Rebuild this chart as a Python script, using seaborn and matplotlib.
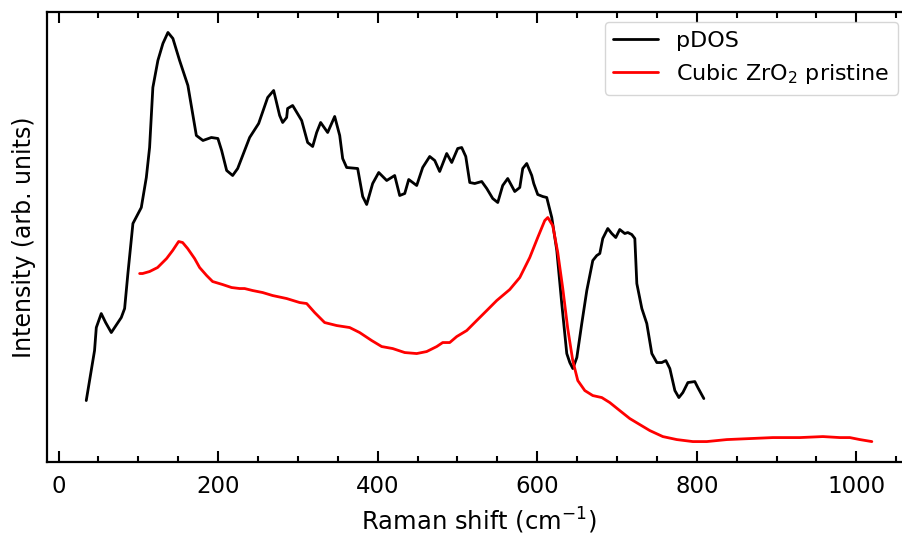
import matplotlib
matplotlib.use("Agg")
import matplotlib.pyplot as plt
from matplotlib.ticker import MultipleLocator
import pandas as pd
import seaborn as sns

# Phonon partial density of states (calculated)
pdos_shift = [34.7, 45.1, 47.3, 53.5, 59.0, 66.1, 78.6, 82.8, 86.9, 93.2, 103.7, 110.0,
              114.1, 118.2, 124.5, 130.8, 137.1, 143.3, 151.7, 162.1, 172.7, 181.0, 191.5,
              199.7, 204.4, 210.7, 218.2, 224.5, 239.5, 250.8, 262.1, 269.6, 277.1, 280.9,
              285.9, 287.1, 293.4, 304.7, 312.2, 318.5, 323.5, 328.5, 337.3, 346.1, 352.4,
              356.1, 361.1, 374.9, 381.2, 386.2, 393.7, 401.3, 411.3, 421.3, 427.6, 433.9,
              438.9, 448.9, 456.4, 465.2, 471.5, 477.7, 486.5, 492.8, 500.3, 505.3, 510.4,
              515.4, 521.6, 530.4, 536.7, 544.2, 550.5, 556.7, 563.0, 571.8, 578.1, 581.8,
              586.8, 593.1, 595.6, 600.6, 606.9, 611.9, 618.2, 624.5, 630.7, 637.0, 640.8,
              644.6, 649.6, 655.8, 662.1, 669.6, 674.6, 678.4, 682.1, 688.4, 693.4, 698.4,
              703.4, 709.7, 713.5, 718.5, 722.3, 724.8, 731.1, 737.3, 743.6, 749.9, 756.1,
              761.2, 766.2, 772.5, 777.5, 782.5, 788.8, 797.5, 801.3, 808.8]
pdos_int = [0.62, 1.12, 1.35, 1.49, 1.40, 1.30, 1.45, 1.54, 1.89, 2.39, 2.55, 2.85,
            3.15, 3.75, 4.02, 4.19, 4.30, 4.24, 4.02, 3.77, 3.27, 3.22, 3.25,
            3.24, 3.12, 2.92, 2.87, 2.94, 3.25, 3.39, 3.65, 3.72, 3.47, 3.40,
            3.45, 3.54, 3.57, 3.42, 3.20, 3.16, 3.30, 3.40, 3.30, 3.46, 3.27,
            3.04, 2.95, 2.94, 2.66, 2.58, 2.79, 2.90, 2.82, 2.87, 2.67, 2.69,
            2.83, 2.77, 2.95, 3.06, 3.02, 2.91, 3.09, 3.00, 3.14, 3.15, 3.06,
            2.80, 2.79, 2.81, 2.74, 2.64, 2.60, 2.77, 2.84, 2.71, 2.75, 2.94,
            2.99, 2.87, 2.79, 2.68, 2.66, 2.65, 2.45, 2.12, 1.59, 1.09, 1.00,
            0.94, 1.05, 1.39, 1.72, 2.02, 2.07, 2.09, 2.24, 2.34, 2.29, 2.25,
            2.33, 2.29, 2.30, 2.28, 2.24, 1.79, 1.54, 1.39, 1.09, 1.00, 1.00,
            1.02, 0.94, 0.72, 0.65, 0.70, 0.80, 0.81, 0.75, 0.64]

# Measured Raman spectrum of pristine cubic ZrO2
raman_shift = [101.6, 105.3, 114.1, 124.1, 135.4, 143.0, 150.5, 155.5, 161.8, 170.5, 176.8,
               185.6, 193.1, 205.6, 216.9, 227.0, 233.2, 243.3, 255.8, 268.3, 285.9, 302.2,
               311.0, 321.0, 333.5, 348.6, 364.9, 377.4, 392.5, 405.0, 418.8, 433.9, 448.9,
               461.4, 474.0, 481.5, 490.3, 499.1, 511.6, 524.1, 536.7, 549.2, 565.5, 578.1,
               590.6, 600.6, 609.4, 613.2, 619.4, 625.7, 632.0, 638.2, 644.5, 650.8, 659.6,
               669.6, 680.9, 690.9, 703.4, 716.0, 728.5, 741.1, 757.4, 774.9, 795.0, 812.5,
               837.6, 866.5, 895.3, 929.2, 958.0, 979.3, 991.8, 1004.4, 1019.4]
raman_int = [1.89, 1.89, 1.91, 1.95, 2.04, 2.12, 2.21, 2.20, 2.14, 2.04, 1.95,
             1.87, 1.81, 1.78, 1.75, 1.74, 1.74, 1.72, 1.70, 1.67, 1.64, 1.60,
             1.59, 1.50, 1.40, 1.37, 1.35, 1.30, 1.22, 1.16, 1.14, 1.10, 1.09,
             1.11, 1.16, 1.20, 1.20, 1.26, 1.32, 1.42, 1.52, 1.62, 1.73, 1.85,
             2.05, 2.25, 2.42, 2.45, 2.37, 2.10, 1.74, 1.34, 1.02, 0.82, 0.72,
             0.67, 0.65, 0.60, 0.52, 0.44, 0.38, 0.32, 0.26, 0.23, 0.21, 0.21,
             0.23, 0.24, 0.25, 0.25, 0.26, 0.25, 0.25, 0.23, 0.21]

labels = ["pDOS", "Cubic ZrO$_2$ pristine"]
colors = ["black", "red"]

sns.set_theme(style="ticks")
plt.rcParams["font.family"] = ["DejaVu Sans"]
plt.rcParams["mathtext.fontset"] = "dejavusans"
plt.rcParams["text.color"] = "black"
plt.rcParams["axes.labelcolor"] = "black"
plt.rcParams["xtick.color"] = "black"
plt.rcParams["xtick.labelcolor"] = "black"

fig = plt.figure(figsize=(9.02, 5.36), dpi=100)
# the frame runs slightly past the right edge of the canvas
ax = fig.add_axes([0.0521, 0.138, 0.958, 0.8396])

pdos_df = pd.DataFrame({"shift": pdos_shift, "intensity": pdos_int})
raman_df = pd.DataFrame({"shift": raman_shift, "intensity": raman_int})

sns.lineplot(data=pdos_df, x="shift", y="intensity", color=colors[0], lw=2,
             label=labels[0], ax=ax, sort=False)
sns.lineplot(data=raman_df, x="shift", y="intensity", color=colors[1], lw=2,
             label=labels[1], ax=ax, sort=False)

ax.set_xlim(-14.5, 1068.6)
ax.margins(y=0.05)
ax.set_xlabel("Raman shift (cm$^{-1}$)", fontsize=17.5, labelpad=6, color="black")
ax.set_ylabel("Intensity (arb. units)", fontsize=17, labelpad=8, color="black")
ax.set_yticks([])
ax.xaxis.set_major_locator(MultipleLocator(200))
ax.xaxis.set_minor_locator(MultipleLocator(50))
ax.tick_params(axis="x", which="both", direction="in", top=True, bottom=True,
               labelsize=16.5, width=1.5, color="black", labelcolor="black", pad=9)
ax.tick_params(axis="x", which="major", length=8)
ax.tick_params(axis="x", which="minor", length=4)
for name, sp in ax.spines.items():
    sp.set_visible(name != "right")
    sp.set_linewidth(1.6)
    sp.set_color("black")

leg = ax.legend(loc="upper right", bbox_to_anchor=(898 / 902, 1 - 22 / 536),
                bbox_transform=fig.transFigure, borderaxespad=0, fontsize=16,
                frameon=True, fancybox=True)
leg.get_frame().set_edgecolor("#cccccc")
for t in leg.get_texts():
    t.set_color("black")

fig.savefig("out.png", dpi=100)
